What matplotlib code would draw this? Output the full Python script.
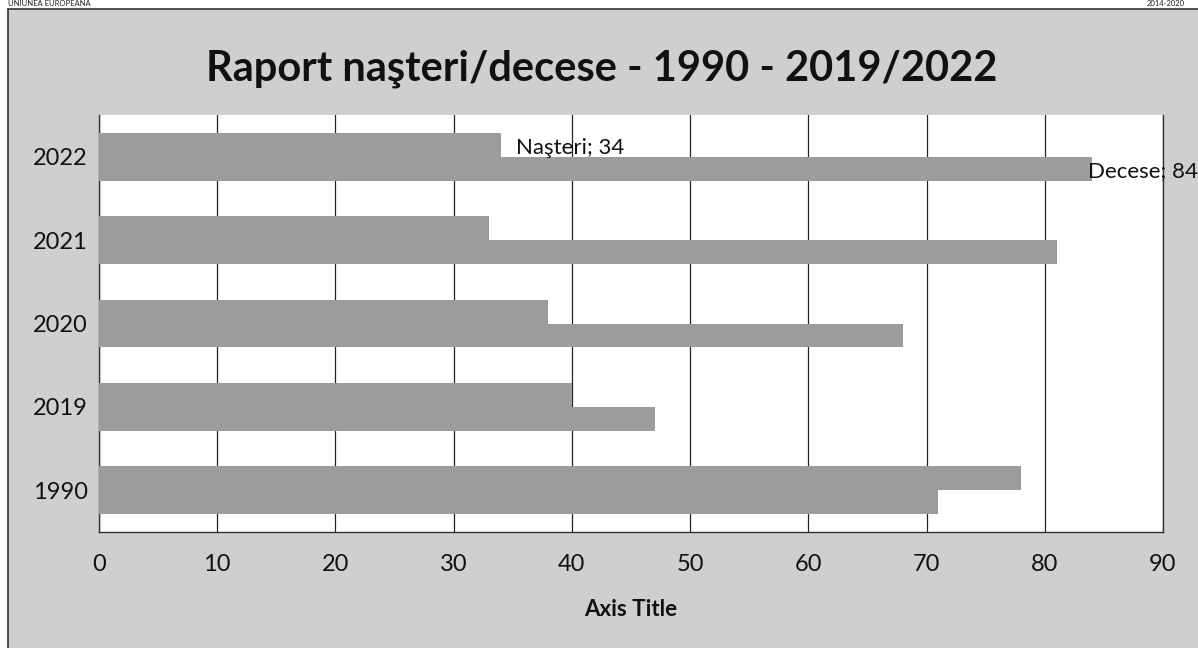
import matplotlib.pyplot as plt
import numpy as np
from matplotlib.patches import Rectangle

plt.rcParams['font.family'] = ['Lato', 'DejaVu Sans']

# Date: nasteri si decese pe ani
ani = ['1990', '2019', '2020', '2021', '2022']
nasteri = [78, 40, 38, 33, 34]
decese = [71, 47, 68, 81, 84]
x_ticks = list(range(0, 100, 10))

fundal = '#cfcfcf'
culoare_bara = '#9c9c9c'

fig = plt.figure(figsize=(11.98, 6.48), dpi=100)
fig.patch.set_facecolor('white')

# chenarul graficului (fundal gri)
fig.patches.append(Rectangle((8 / 1198, -0.01), 1.0, 1 - 9 / 648 + 0.01,
                             transform=fig.transFigure, facecolor=fundal,
                             edgecolor='#333333', linewidth=1.2, zorder=-10))

# antet pagina
fig.text(8 / 1198, 1.0, 'UNIUNEA EUROPEANĂ', fontsize=5.5, color='#222222',
         ha='left', va='top')
fig.text(1185 / 1198, 1.0, '2014-2020', fontsize=5.5, color='#222222',
         ha='right', va='top')

ax = fig.add_axes([99 / 1198, (648 - 532) / 648, (1163 - 99) / 1198, (532 - 115) / 648])
ax.set_facecolor('white')

y = np.arange(len(ani))
h = 0.287
ax.barh(y + h / 2, nasteri, height=h, color=culoare_bara, edgecolor='none',
        zorder=3, label='Naşteri')
ax.barh(y - h / 2, decese, height=h, color=culoare_bara, edgecolor='none',
        zorder=3, label='Decese')

# etichete de date doar pentru 2022
i = ani.index('2022')
ax.annotate(f'Naşteri; {nasteri[i]}', xy=(nasteri[i], y[i] + h / 2),
            xytext=(11, -2), textcoords='offset points', ha='left', va='center',
            fontsize=16, color='#111111', zorder=5, annotation_clip=False)
ax.annotate(f'Decese; {decese[i]}', xy=(decese[i], y[i] - h / 2),
            xytext=(-3, -1.5), textcoords='offset points', ha='left', va='center',
            fontsize=16, color='#111111', zorder=5, annotation_clip=False)

ax.set_xlim(0, 90)
ax.set_ylim(-0.5, len(ani) - 0.5)
ax.set_xticks(x_ticks)
ax.set_yticks(y)
ax.set_yticklabels(ani)
ax.tick_params(axis='x', length=0, pad=16, labelsize=17, colors='#111111')
ax.tick_params(axis='y', length=0, pad=8, labelsize=17, colors='#111111')
ax.grid(axis='x', color='#222222', linewidth=0.9, zorder=1)
ax.set_axisbelow(True)

for s in ['left', 'bottom', 'right']:
    ax.spines[s].set_color('#333333')
    ax.spines[s].set_linewidth(1.0)
ax.spines['top'].set_visible(False)

ax.set_xlabel('Axis Title', fontsize=16, fontweight='bold', labelpad=17, color='#111111')

fig.text(602 / 1198, 1 - 69 / 648, 'Raport naşteri/decese - 1990 - 2019/2022',
         fontsize=30, fontweight='bold', ha='center', va='center', color='#111111')

fig.savefig('out.png', dpi=100, facecolor=fig.get_facecolor())
